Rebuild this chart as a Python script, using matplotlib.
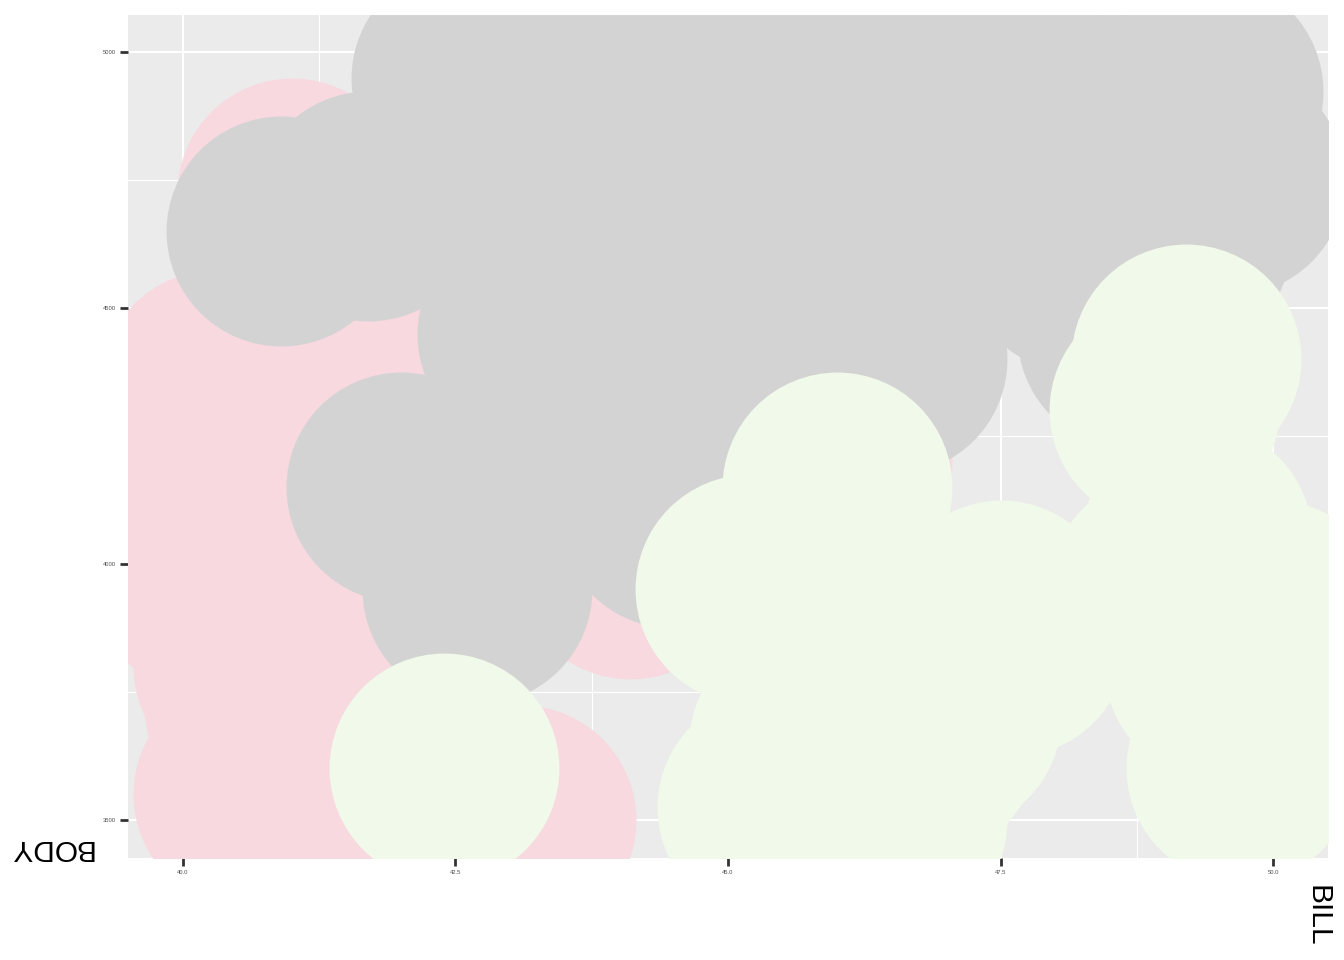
import matplotlib
matplotlib.use('Agg')
import matplotlib.pyplot as plt
from matplotlib.ticker import MultipleLocator, FormatStrFormatter

plt.rcParams['font.family'] = ['Liberation Sans', 'DejaVu Sans']

# penguins with bill length 40-50 mm and body mass 3500-5000 g
adelie_bill = [42.0, 42.5, 46.0, 40.6, 40.5, 40.9, 42.2, 40.8, 44.1, 42.3,
               40.1, 42.0, 41.4, 40.6, 41.3, 41.1, 41.6, 41.1, 41.8, 45.8,
               42.8, 40.9, 42.1, 42.9, 41.3, 41.1, 40.8, 40.3, 43.2, 41.0,
               43.2, 45.6, 42.2, 42.7, 41.4, 40.6, 41.5, 44.1, 43.1, 41.1,
               40.2, 40.7, 41.5]
adelie_mass = [4250, 4500, 4200, 3550, 3950, 3900, 3550, 3900, 4400, 4150,
               4300, 4050, 3700, 3800, 4400, 4050, 3950, 4100, 4450, 4150,
               4250, 3700, 4000, 4700, 3550, 4300, 4300, 4350, 4100, 4725,
               4775, 4600, 4275, 4075, 3875, 4000, 4300, 4000, 3500, 3900,
               3975, 3725, 4000]

gentoo_bill = [46.1, 48.7, 46.5, 45.4, 43.3, 40.9, 45.5, 45.8, 42.0, 46.2,
               45.1, 46.5, 42.9, 44.5, 48.2, 42.8, 42.6, 44.0, 42.7, 45.3,
               49.6, 43.6, 45.5, 46.6, 45.1, 46.5, 43.8, 45.5, 43.2, 45.3,
               45.7, 45.8, 46.2, 43.5, 47.7, 46.4, 46.4, 45.2, 49.1, 47.4,
               44.9, 43.4, 47.5, 47.5, 45.5, 44.5, 49.4, 46.9, 48.4, 48.5,
               47.2, 41.7, 43.3, 46.8]
gentoo_mass = [4500, 4450, 4550, 4800, 4400, 4650, 4650, 4200, 4150, 4800,
               5000, 4400, 5000, 4100, 4600, 4700, 4950, 4350, 3950, 4300,
               4750, 4900, 4200, 4850, 4400, 4900, 4300, 5000, 4450, 4200,
               4400, 4700, 4650, 4700, 4750, 5000, 4700, 4750, 4625, 4725,
               4750, 4600, 4875, 4950, 4750, 4850, 4925, 4875, 4625, 4850,
               4975, 4700, 4575, 4850]

chin_bill = [46.5, 50.0, 45.4, 45.2, 46.0, 46.6, 47.0, 45.9, 49.2, 42.4,
             49.5, 46.4, 49.7, 47.5, 47.6, 49.0, 46.2, 45.5, 49.0, 49.8,
             45.7, 49.3, 45.6, 46.8, 45.7, 49.6]
chin_mass = [3500, 3900, 3525, 3950, 4150, 3800, 3700, 3575, 4400, 3600,
             3800, 3700, 3600, 3900, 3850, 3950, 3650, 3500, 4300, 3675,
             3600, 4050, 3525, 3650, 3650, 3775]

x_ticks = [40.0, 42.5, 45.0, 47.5, 50.0]
y_ticks = [3500, 4000, 4500, 5000]

fig = plt.figure(figsize=(13.44, 9.6), dpi=100)
ax = fig.add_axes([128/1344, 1 - 858/960, 1200/1344, 843/960])
ax.set_facecolor('#EBEBEB')

size = 27400
ax.scatter(adelie_bill, adelie_mass, s=size, c='#F7D9DF', linewidths=0, zorder=2)
ax.scatter(gentoo_bill, gentoo_mass, s=size, c='#D3D3D3', linewidths=0, zorder=2)
ax.scatter(chin_bill, chin_mass, s=size, c='#F1F9EA', linewidths=0, zorder=2)

ax.set_xlim(39.5, 50.5)
ax.set_ylim(3425, 5073)
ax.set_xticks(x_ticks)
ax.set_yticks(y_ticks)
ax.xaxis.set_minor_locator(MultipleLocator(1.25))
ax.yaxis.set_minor_locator(MultipleLocator(250))
ax.xaxis.set_major_formatter(FormatStrFormatter('%.1f'))
ax.yaxis.set_major_formatter(FormatStrFormatter('%d'))

ax.grid(which='major', color='white', linewidth=1.45, zorder=1)
ax.grid(which='minor', color='white', linewidth=0.8, zorder=1)
ax.set_axisbelow(True)
for sp in ax.spines.values():
    sp.set_visible(False)

ax.tick_params(which='major', length=5.5, width=2.0, color='#333333',
               labelsize=4.2, labelcolor='#4D4D4D', pad=3.5)
ax.tick_params(which='minor', length=0)

ax.set_ylabel('BODY', rotation=180, fontsize=21.5, ha='center', va='center')
ax.yaxis.set_label_coords((50 - 128) / 1200, (858 - 848) / 843)
ax.set_xlabel('BILL', rotation=270, fontsize=21.5, ha='center', va='center')
ax.xaxis.set_label_coords((1317 - 128) / 1200, (858 - 916) / 843)

fig.savefig('out.png', dpi=100)
